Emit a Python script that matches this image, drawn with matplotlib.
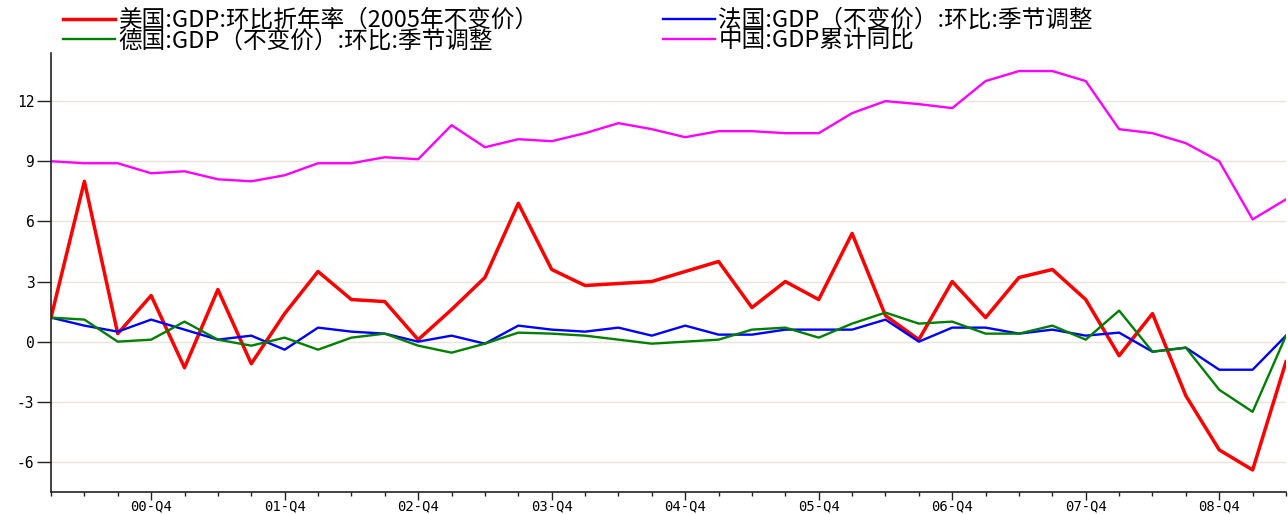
import matplotlib
matplotlib.use('Agg')
import matplotlib.pyplot as plt
import numpy as np

# 季度: 2000Q1 - 2009Q2
quarters = ['%02d-Q%d' % (y, q) for y in range(0, 10) for q in range(1, 5)][:38]

us = [1.2, 8.0, 0.4, 2.3, -1.3, 2.6, -1.1, 1.4,
      3.5, 2.1, 2.0, 0.1, 1.6, 3.2, 6.9, 3.6,
      2.8, 2.9, 3.0, 3.5, 4.0, 1.7, 3.0, 2.1,
      5.4, 1.3, 0.1, 3.0, 1.2, 3.2, 3.6, 2.1,
      -0.7, 1.4, -2.7, -5.4, -6.4, -1.0]
france = [1.2, 0.8, 0.5, 1.1, 0.6, 0.1, 0.3, -0.4,
          0.7, 0.5, 0.4, 0.0, 0.3, -0.1, 0.8, 0.6,
          0.5, 0.7, 0.3, 0.8, 0.35, 0.35, 0.6, 0.6,
          0.6, 1.1, 0.0, 0.7, 0.7, 0.4, 0.6, 0.3,
          0.45, -0.5, -0.3, -1.4, -1.4, 0.3]
germany = [1.2, 1.1, 0.0, 0.1, 1.0, 0.1, -0.2, 0.2,
           -0.4, 0.2, 0.4, -0.2, -0.55, -0.1, 0.45, 0.4,
           0.3, 0.1, -0.1, 0.0, 0.1, 0.6, 0.7, 0.2,
           0.9, 1.45, 0.9, 1.0, 0.4, 0.4, 0.8, 0.1,
           1.55, -0.5, -0.3, -2.4, -3.5, 0.3]
china = [9.0, 8.9, 8.9, 8.4, 8.5, 8.1, 8.0, 8.3,
         8.9, 8.9, 9.2, 9.1, 10.8, 9.7, 10.1, 10.0,
         10.4, 10.9, 10.6, 10.2, 10.5, 10.5, 10.4, 10.4,
         11.4, 12.0, 11.85, 11.65, 13.0, 13.5, 13.5, 13.0,
         10.6, 10.4, 9.9, 9.0, 6.1, 7.1]

names = ['美国:GDP:环比折年率（2005年不变价）', '法国:GDP（不变价）:环比:季节调整',
         '德国:GDP（不变价）:环比:季节调整', '中国:GDP累计同比']

plt.rcParams['font.family'] = ['Noto Sans CJK SC', 'DejaVu Sans']

fig = plt.figure(figsize=(12.88, 5.14), dpi=100)
ax = fig.add_axes([51 / 1288, 1 - 492 / 514, 1235 / 1288, 439 / 514])

x = np.arange(len(quarters))
l_us, = ax.plot(x, us, color='#ff0000', lw=2.5)
l_fr, = ax.plot(x, france, color='#0000ff', lw=1.7)
l_de, = ax.plot(x, germany, color='#008000', lw=1.7)
l_cn, = ax.plot(x, china, color='#ff00ff', lw=1.7)

ax.set_xlim(0, len(quarters) - 1)
ax.set_ylim(-7.5, 14.4)
ax.set_yticks(np.arange(-6, 13, 3))
ax.set_yticklabels([str(v) for v in range(-6, 13, 3)], family='DejaVu Sans Mono', fontsize=10.5)
major = [i for i, q in enumerate(quarters) if q.endswith('Q4')]
ax.set_xticks(major)
ax.set_xticklabels([quarters[i] for i in major], family='DejaVu Sans Mono', fontsize=10)
ax.set_xticks(x, minor=True)
ax.tick_params(axis='y', length=10, width=1, color='#222222', pad=2)
ax.tick_params(axis='x', which='major', length=5.5, width=1, color='#222222', pad=0)
ax.tick_params(axis='x', which='minor', length=3, width=1, color='#222222')
ax.grid(axis='y', color='#e8e4d8', lw=1)
ax.set_axisbelow(True)
for s in ['top', 'right']:
    ax.spines[s].set_visible(False)
for s in ['left', 'bottom']:
    ax.spines[s].set_color('#222222')
    ax.spines[s].set_linewidth(1.2)

opts = dict(frameon=False, fontsize=17, handlelength=2.2, handletextpad=0.15,
            borderpad=0, borderaxespad=0, labelspacing=-0.1)
leg1 = fig.legend([l_us, l_de], [names[0], names[2]], loc='upper left',
                  bbox_to_anchor=(63 / 1288, 1 - 9 / 514), **opts)
fig.legend([l_fr, l_cn], [names[1], names[3]], loc='upper left',
           bbox_to_anchor=(663 / 1288, 1 - 9 / 514), **opts)

fig.savefig('out.png', dpi=100)
